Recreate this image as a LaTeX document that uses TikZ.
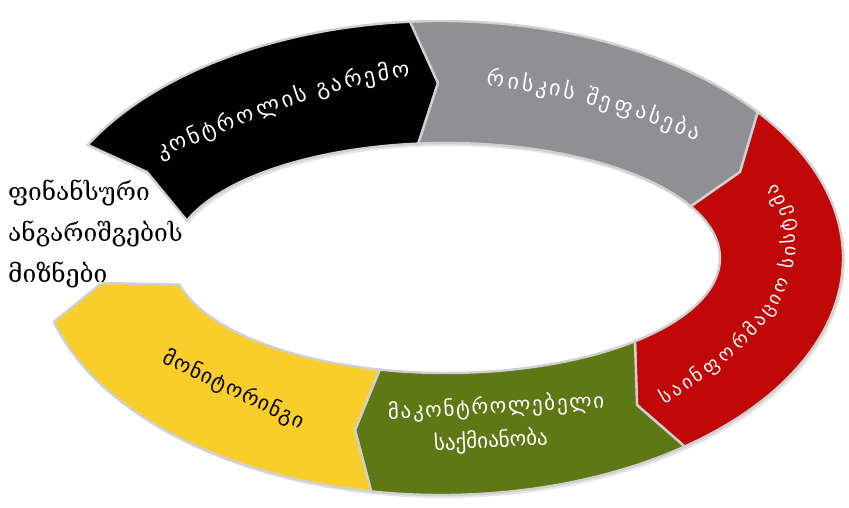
\documentclass[tikz,border=0pt]{standalone}
\usepackage{fontspec}
\setmainfont{DejaVu Sans}
\newfontfamily\geofont{DejaVu Sans}
\newfontfamily\geoserif{DejaVu Serif}
\usetikzlibrary{decorations.text}
\definecolor{segblack}{RGB}{2,2,2}
\definecolor{seggray}{RGB}{143,143,148}
\definecolor{segred}{RGB}{192,8,8}
\definecolor{seggreen}{RGB}{95,120,22}
\definecolor{segyellow}{RGB}{250,206,42}
\definecolor{segborder}{RGB}{208,208,208}
\def\segA{(87.71,144.91) arc[start angle=-151.5,end angle=-94.4,x radius=402,y radius=237] -- (438,83) -- (418.31,143.59) arc[start angle=-95.8,end angle=-161,x radius=274,y radius=115] -- (147,172) -- cycle}
\def\segB{(410.16,21.70) arc[start angle=-94.4,end angle=-38,x radius=402,y radius=237] -- (740,172) -- (690.78,206.33) arc[start angle=-26.7,end angle=-95.8,x radius=274,y radius=115] -- (438,83) -- cycle}
\def\segC{(757.78,112.09) arc[start angle=-38,end angle=52.7,x radius=402,y radius=237] -- (637,405) -- (634.96,341.28) arc[start angle=46.4,end angle=-26.7,x radius=274,y radius=115] -- (740,172) -- cycle}
\def\segD{(684.61,446.53) arc[start angle=52.7,end angle=100,x radius=402,y radius=237] -- (355,430) -- (379.71,369.58) arc[start angle=104,end angle=46.4,x radius=274,y radius=115] -- (637,405) -- cycle}
\def\segE{(371.19,491.40) arc[start angle=100,end angle=164.4,x radius=402,y radius=237] -- (102,283) -- (179.46,284.65) arc[start angle=166.6,end angle=104,x radius=274,y radius=115] -- (355,430) -- cycle}
\begin{document}
\begin{tikzpicture}[x=1pt,y=-1pt,
  seg/.style={draw=segborder, line width=2.4pt, line join=miter},
  segshadow/.style={fill=black, opacity=0.10},
  curvelabel/.style 2 args={decorate, font=\geofont\fontsize{#2}{24}\selectfont,
    decoration={text effects along path, text={#1},
      text effects/.cd, text along path, fit text to path,
      characters={text=white, font=\geofont\fontsize{#2}{24}\selectfont, anchor=base}}},
  lbl/.style={inner sep=0pt, align=center, text=white, font=\geofont\fontsize{21}{34}\selectfont}]
\useasboundingbox (0,0) rectangle (849,507);
\fill[white] (0,0) rectangle (849,507);
% shadows
\begin{scope}[shift={(2,3)}]
  \fill[segshadow] \segA;
  \fill[segshadow] \segB;
  \fill[segshadow] \segC;
  \fill[segshadow] \segD;
  \fill[segshadow] \segE;
\end{scope}
% segments
\path[seg, fill=segblack] \segA;
\path[seg, fill=seggray] \segB;
\path[seg, fill=segred] \segC;
\path[seg, fill=seggreen] \segD;
\path[seg, fill=segyellow] \segE;
% curved labels
\path[curvelabel={კონტროლის გარემო}{22}] (160,158) .. controls (230,130) and (325,85) .. (410,77);
\path[curvelabel={რისკის შეფასება}{22}] (486,86) .. controls (540,90) and (630,110) .. (697,141);
\path[curvelabel={საინფორმაციო სისტემა}{19}] (664,404) .. controls (760,350) and (832,270) .. (776,183);
% straight labels
\node[lbl, rotate=3] (ctrl) at (497,424) {{\addfontfeature{LetterSpace=8}მაკონტროლებელი}\\საქმიანობა\hspace*{14pt}};
\node[lbl, text=black, rotate=-25.5] (mon) at (234,390) {\addfontfeature{LetterSpace=6}მონიტორინგი};
\node[anchor=base west, align=left, inner sep=0pt, font=\geoserif\fontsize{24.5}{41}\selectfont] (goal) at (8,282) {ფინანსური\\ანგარიშგების\\მიზნები};
\end{tikzpicture}
\end{document}
